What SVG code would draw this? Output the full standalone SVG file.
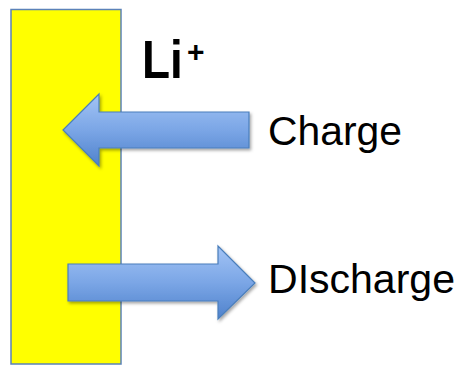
<svg xmlns="http://www.w3.org/2000/svg" width="462" height="365" viewBox="0 0 462 365">
  <style>
    .arrow { fill: url(#blueGrad); stroke: #4a7ebb; stroke-width: 1.2; filter: url(#shadow); }
    .lbl { font-family: "Liberation Sans", Arial, sans-serif; fill: #000; }
  </style>
  <defs>
    <linearGradient id="blueGrad" x1="0" y1="0" x2="0" y2="1">
      <stop offset="0" stop-color="#a3c4f5"/>
      <stop offset="0.5" stop-color="#7ba6e6"/>
      <stop offset="1" stop-color="#4f82cc"/>
    </linearGradient>
    <filter id="shadow" x="-10%" y="-20%" width="130%" height="150%">
      <feDropShadow dx="1.5" dy="2" stdDeviation="1.8" flood-color="#000" flood-opacity="0.35"/>
    </filter>
  </defs>
  <rect width="462" height="365" fill="#fff"/>
  <g id="electrode">
    <rect x="11" y="9.5" width="110" height="354.5" fill="#ffff00" stroke="#5b82b9" stroke-width="1.5"/>
  </g>
  <g id="label-li">
    <text class="lbl" transform="translate(142,78) scale(0.85,1)" font-size="54" font-weight="bold">Li</text>
    <text class="lbl" x="187" y="61.5" font-size="30" font-weight="bold">+</text>
  </g>
  <g id="connectors">
    <path id="arrow-charge" class="arrow" d="M63,130 L99,94 L99,112 L249,112 L249,148 L99,148 L99,166 Z"/>
    <path id="arrow-discharge" class="arrow" d="M255,283 L218,246 L218,264 L68,264 L68,301 L218,301 L218,319 Z"/>
  </g>
  <g id="label-charge">
    <text class="lbl" x="268" y="145" font-size="41" textLength="134" lengthAdjust="spacingAndGlyphs">Charge</text>
  </g>
  <g id="label-discharge">
    <text class="lbl" x="268" y="293" font-size="41" textLength="187" lengthAdjust="spacingAndGlyphs">DIscharge</text>
  </g>
</svg>
